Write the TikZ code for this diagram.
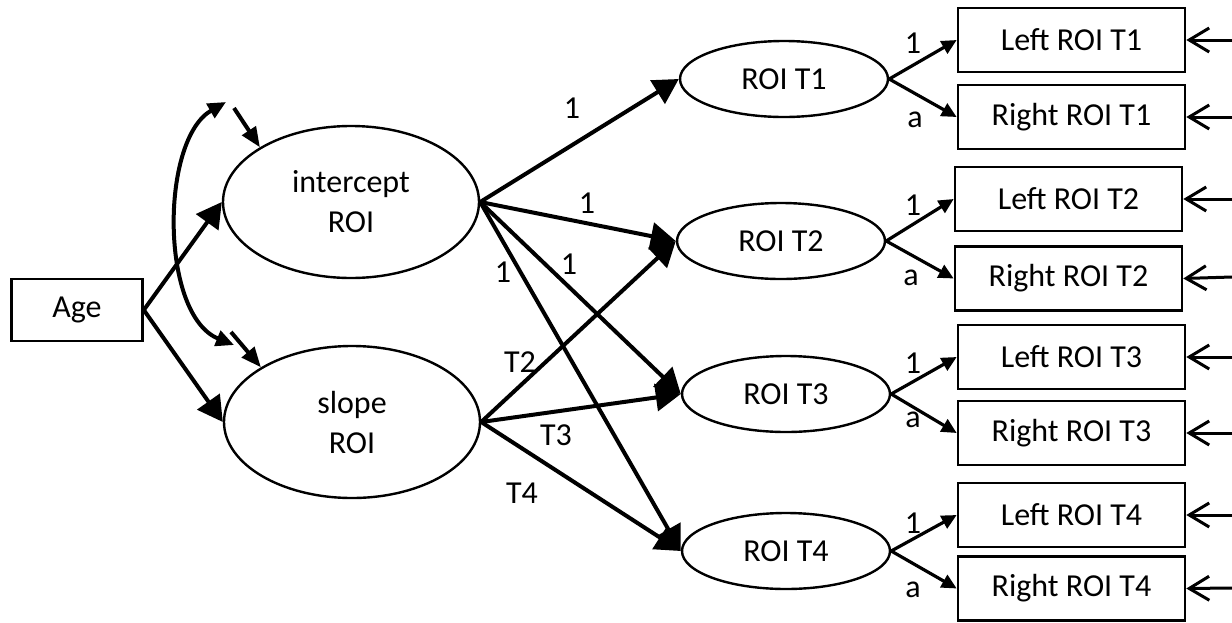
\documentclass[tikz,border=0pt]{standalone}
\usepackage{fontspec}
\setmainfont{Carlito}
\usetikzlibrary{arrows.meta,shapes.geometric}
\begin{document}
\begin{tikzpicture}[x=0.5pt,y=-0.5pt,
  font=\fontsize{16}{20}\selectfont,
  latent/.style={ellipse,draw,line width=1.2pt,inner sep=0pt,align=center},
  bigfac/.style={latent,minimum width=128pt,minimum height=76pt},
  occ/.style={latent,minimum width=104pt,minimum height=38pt},
  obs/.style={rectangle,draw,line width=1.3pt,minimum width=113.5pt,minimum height=32pt,inner sep=0pt},
  reg/.style={line width=2pt,-{Triangle[length=12.5pt,width=13.5pt]}},
  loadarr/.style={line width=1.6pt,-{Triangle[length=7.5pt,width=7pt]}},
  err/.style={line width=1.5pt,-{Straight Barb[length=10pt,width=12pt]}},
  cov/.style={line width=2pt,{Triangle[length=9pt,width=8pt]}-{Triangle[length=9pt,width=8pt]}},
  resid/.style={line width=2pt,-{Triangle[length=10pt,width=8pt]}},
  lab/.style={inner sep=0pt}
]
\useasboundingbox (0,0) rectangle (1232,622);

% observed predictor and growth factors
\node[obs,minimum width=65.5pt,minimum height=31pt] (age) at (77,310) {Age};
\node[bigfac] (int) at (351,202) {intercept\\ROI};
\node[bigfac] (slo) at (352,422) {slope\\ROI};

% occasion factors
\node[occ] (t1) at (784,79)  {ROI T1};
\node[occ] (t2) at (781,241) {ROI T2};
\node[occ] (t3) at (786,394) {ROI T3};
\node[occ] (t4) at (786,551) {ROI T4};

% hemisphere indicators
\node[obs] (l1) at (1071.5,40)    {Left ROI T1};
\node[obs] (r1) at (1071.5,117)   {Right ROI T1};
\node[obs] (l2) at (1068.5,199)   {Left ROI T2};
\node[obs] (r2) at (1068.5,278.5) {Right ROI T2};
\node[obs] (l3) at (1071.5,357)   {Left ROI T3};
\node[obs] (r3) at (1071.5,433)   {Right ROI T3};
\node[obs] (l4) at (1071.5,515)   {Left ROI T4};
\node[obs] (r4) at (1071.5,588.5) {Right ROI T4};

% age effects
\draw[reg] (age.east) -- (int.west);
\draw[reg] (age.east) -- (slo.west);

% factor covariance and residual variances
\coordinate (ca) at (226,102);
\coordinate (cb) at (234,345);
\draw[cov] (ca) .. controls (160,140) and (160,315) .. (cb);
\coordinate (ri) at (234,108);
\coordinate (rs) at (231,332);
\draw[resid] (ri) -- (int.149);
\draw[resid] (rs) -- (slo.149);

% intercept loadings
\draw[reg] (int.east) -- (t1.west);
\draw[reg] (int.east) -- (t2.west);
\draw[reg] (int.east) -- (t3.west);
\draw[reg] (int.east) -- (t4.west);
% slope loadings
\draw[reg] (slo.east) -- (t2.west);
\draw[reg] (slo.east) -- (t3.west);
\draw[reg] (slo.east) -- (t4.west);

\node[lab] (k1) at (572,108) {1};
\node[lab] (k2) at (587,203) {1};
\node[lab] (k3) at (569,264) {1};
\node[lab] (k4) at (503,272) {1};
\node[lab] (s2) at (520,362) {T2};
\node[lab] (s3) at (556,435) {T3};
\node[lab] (s4) at (522,493) {T4};

% measurement loadings
\foreach \t/\l/\r in {t1/l1/r1,t2/l2/r2,t3/l3/r3,t4/l4/r4}{
  \draw[loadarr] (\t.east) -- (\l.west);
  \draw[loadarr] (\t.east) -- (\r.west);
}
\node[lab] (m1) at (913,43)  {1};
\node[lab] (a1) at (915,120) {a};
\node[lab] (m2) at (913,205) {1};
\node[lab] (a2) at (911,278) {a};
\node[lab] (m3) at (913,363) {1};
\node[lab] (a3) at (913,420) {a};
\node[lab] (m4) at (913,523) {1};
\node[lab] (a4) at (913,590) {a};

% measurement errors
\foreach \b/\y in {l1/40,r1/117,l2/199,r2/277,l3/357,r3/433,l4/515,r4/588}{
  \coordinate (e\b) at (1232,\y);
  \draw[err] (e\b) -- (\b.east);
}
\end{tikzpicture}
\end{document}
